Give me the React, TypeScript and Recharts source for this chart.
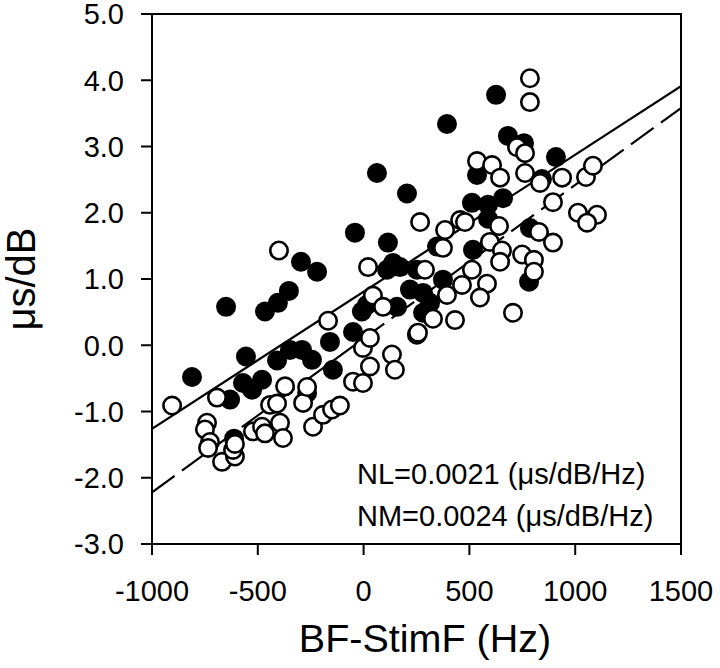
import React from "react";
import { ScatterChart, Scatter, XAxis, YAxis, ReferenceArea, Label } from "recharts";

const FONT = "'Liberation Sans', Arial, Helvetica, sans-serif";

// x: BF-StimF (Hz), y: μs/dB
const filledX = [-811, -650, -466, -405, -353, -296, -220, -556, -409, -348, -291, -244, -159, -50, -145, -267, -570, -527, -480, -631, -612, 63, 205, -41, 115, 347, 139, 111, 172, 252, 219, 281, 375, 314, 281, 158, 16, -8, 626, 394, 682, 758, 909, 536, 843, 512, 588, 659, 588, 786, 517, 782];
const filledY = [-0.48, 0.58, 0.51, 0.64, 0.82, 1.26, 1.11, -0.17, -0.23, -0.07, -0.07, -0.22, 0.05, 0.2, -0.37, -0.72, -0.57, -0.67, -0.52, -0.82, -1.41, 2.6, 2.29, 1.7, 1.55, 1.49, 1.24, 1.14, 1.18, 1.14, 0.84, 0.79, 0.99, 0.64, 0.49, 0.58, 0.61, 0.51, 3.78, 3.34, 3.16, 3.05, 2.84, 2.57, 2.51, 2.15, 2.12, 2.22, 1.91, 1.77, 1.44, 0.96];

const openX = [-905, -693, -740, -750, -726, -735, -669, -608, -617, -608, -523, -480, -466, -442, -409, -395, -381, -286, -267, -239, -192, -149, -112, -50, -3, -3, 30, 30, 134, 148, 44, 92, 252, -168, -400, 21, 267, 385, 375, 456, 786, 786, 536, 607, 645, 725, 763, 763, 834, 938, 1051, 1084, 895, 1013, 1103, 1056, 479, 640, 829, 895, 597, 654, 645, 749, 805, 512, 583, 805, 465, 550, 706, 432, 257, 328, 394, 290, -371];
const openY = [-0.91, -0.79, -1.17, -1.27, -1.46, -1.55, -1.76, -1.68, -1.58, -1.49, -1.3, -1.23, -1.33, -0.9, -0.88, -1.17, -1.4, -0.87, -0.63, -1.23, -1.05, -0.97, -0.91, -0.55, -0.57, -0.04, 0.11, -0.32, -0.14, -0.37, 0.75, 0.58, 0.16, 0.37, 1.43, 1.18, 1.86, 1.74, 1.47, 1.89, 4.03, 3.67, 2.78, 2.72, 2.53, 2.99, 2.9, 2.6, 2.45, 2.53, 2.54, 2.71, 2.16, 2.0, 1.97, 1.85, 1.86, 1.8, 1.71, 1.55, 1.56, 1.43, 1.26, 1.37, 1.29, 1.14, 0.93, 1.11, 0.91, 0.72, 0.49, 0.38, 0.19, 0.4, 0.76, 1.14, -0.62];

// regression line end points
const fitX = [-1000, 1500];
const nlFitY = [-1.26, 3.91];
const nmFitY = [-2.22, 3.58];

const xTicks = [-1000, -500, 0, 500, 1000, 1500];
const yTicks = [-3, -2, -1, 0, 1, 2, 3, 4, 5];

const nlText = "NL=0.0021 (μs/dB/Hz)";
const nmText = "NM=0.0024 (μs/dB/Hz)";
const xTitle = "BF-StimF (Hz)";
const yTitle = "μs/dB";

const zip = (xs: number[], ys: number[]) => xs.map((x, i) => ({ x, y: ys[i] }));
const filledData = zip(filledX, filledY);
const openData = zip(openX, openY);
const nlFit = zip(fitX, nlFitY);
const nmFit = zip(fitX, nmFitY);

const FilledDot = (p: any) => <circle cx={p.cx} cy={p.cy} r={10} fill="#000" />;
const OpenDot = (p: any) => (
  <circle cx={p.cx} cy={p.cy} r={8.7} fill="#fff" stroke="#000" strokeWidth={2.6} />
);
const NoDot = () => <g />;

export default function App() {
  return (
    <div style={{ position: "absolute", left: 0, top: 0, width: 720, height: 668, background: "#fff" }}>
      <ScatterChart width={720} height={668} margin={{ top: 14, right: 39, bottom: 0, left: 0 }}>
        <XAxis
          type="number"
          dataKey="x"
          domain={[-1000, 1500]}
          ticks={xTicks}
          interval={0}
          allowDataOverflow
          height={124}
          tickSize={11}
          tickMargin={25}
          axisLine={{ stroke: "#000", strokeWidth: 2 }}
          tickLine={{ stroke: "#000", strokeWidth: 2 }}
          tick={{ fill: "#000", fontSize: 29, fontFamily: FONT }}
        >
          <Label
            content={() => (
              <text x={425} y={652} textAnchor="middle" fontSize={39.5} fontFamily={FONT} fill="#000">
                {xTitle}
              </text>
            )}
          />
        </XAxis>
        <YAxis
          type="number"
          dataKey="y"
          domain={[-3, 5]}
          ticks={yTicks}
          interval={0}
          allowDataOverflow
          width={152}
          tickSize={11}
          tickMargin={17}
          tickFormatter={(v: number) => v.toFixed(1)}
          axisLine={{ stroke: "#000", strokeWidth: 2 }}
          tickLine={{ stroke: "#000", strokeWidth: 2 }}
          tick={{ fill: "#000", fontSize: 29, fontFamily: FONT }}
        >
          <Label
            content={() => (
              <text
                x={35}
                y={279}
                transform="rotate(-90 35 279)"
                textAnchor="middle"
                fontSize={40}
                fontFamily={FONT}
                fill="#000"
              >
                {yTitle}
              </text>
            )}
          />
        </YAxis>
        <ReferenceArea x1={-1000} x2={1500} y1={-3} y2={5} fill="none" fillOpacity={0} stroke="#000" strokeWidth={2} />
        <Scatter data={nlFit} line={{ stroke: "#000", strokeWidth: 2.2 }} shape={NoDot} isAnimationActive={false} legendType="none" />
        <Scatter
          data={nmFit}
          line={{ stroke: "#000", strokeWidth: 2.2, strokeDasharray: "28 9" }}
          shape={NoDot}
          isAnimationActive={false}
          legendType="none"
        />
        <Scatter data={filledData} shape={FilledDot} isAnimationActive={false} />
        <Scatter data={openData} shape={OpenDot} isAnimationActive={false} />
      </ScatterChart>
      <svg width={720} height={668} style={{ position: "absolute", left: 0, top: 0, pointerEvents: "none" }}>
        <text x={357} y={484} fontSize={29} fontFamily={FONT} fill="#000">
          {nlText}
        </text>
        <text x={357} y={526} fontSize={29} fontFamily={FONT} fill="#000">
          {nmText}
        </text>
      </svg>
    </div>
  );
}
